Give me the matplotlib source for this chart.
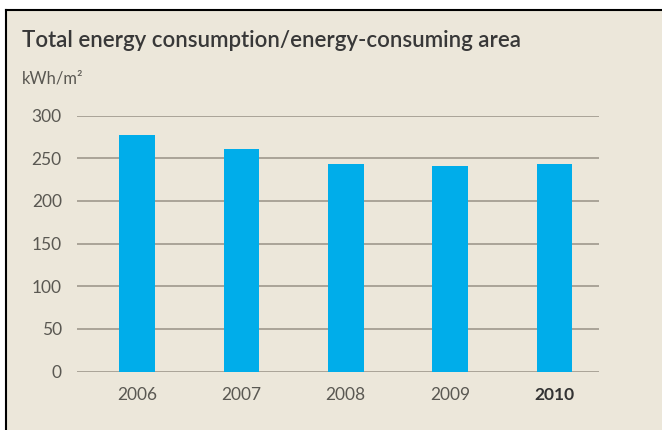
import matplotlib
matplotlib.use('Agg')
import matplotlib.pyplot as plt
import matplotlib.patches as patches
from matplotlib.lines import Line2D

# 数据
years = ['2006', '2007', '2008', '2009', '2010']
values = [277, 261, 243, 241, 243]
y_ticks = [0, 50, 100, 150, 200, 250, 300]

plt.rcParams['font.family'] = ['Lato', 'DejaVu Sans']

W, H = 662, 430
fig = plt.figure(figsize=(W / 100, H / 100), dpi=100)
fig.patch.set_facecolor('white')

# 米色背景面板 + 左侧和顶部黑边
bg = '#ECE7DA'
fig.patches.append(patches.Rectangle((6 / W, 0), 1, 1 - 10 / H, transform=fig.transFigure,
                                     facecolor=bg, edgecolor='none', zorder=-10))
fig.lines.append(Line2D([6 / W, 6 / W], [0, 1 - 10 / H], transform=fig.transFigure,
                        color='black', linewidth=1.5))
fig.lines.append(Line2D([6 / W, 1], [1 - 10 / H, 1 - 10 / H], transform=fig.transFigure,
                        color='black', linewidth=1.5))

ax = fig.add_axes([77 / W, 1 - 371.5 / H, (599 - 77) / W, (371.5 - 115.7) / H])
ax.set_facecolor('none')

x = range(len(years))
ax.bar(x, values, width=0.34, color='#00ADEA', zorder=2)

ax.set_xlim(-0.575, 4.426)
ax.set_ylim(0, 300)
ax.set_yticks(y_ticks)
ax.yaxis.grid(True, color='#9E988C', linewidth=1.2, zorder=1)
ax.set_axisbelow(True)
for s in ax.spines.values():
    s.set_visible(False)
ax.tick_params(axis='both', length=0, labelsize=12.5, colors='#5A5852')
ax.tick_params(axis='y', pad=11)
ax.tick_params(axis='x', pad=11)
ax.set_xticks(list(x))
ax.set_xticklabels(years)
ax.get_xticklabels()[-1].set_fontweight('bold')
ax.get_xticklabels()[-1].set_color('#333333')

# 标题和单位
fig.text(22 / W, 1 - 47 / H, 'Total energy consumption/energy-consuming area',
         fontsize=16, fontweight='semibold', color='#383838', va='baseline', ha='left')
fig.text(22 / W, 1 - 84 / H, 'kWh/m²', fontsize=12, color='#5A5852', va='baseline', ha='left')

fig.savefig('out.png', dpi=100, facecolor='white')
